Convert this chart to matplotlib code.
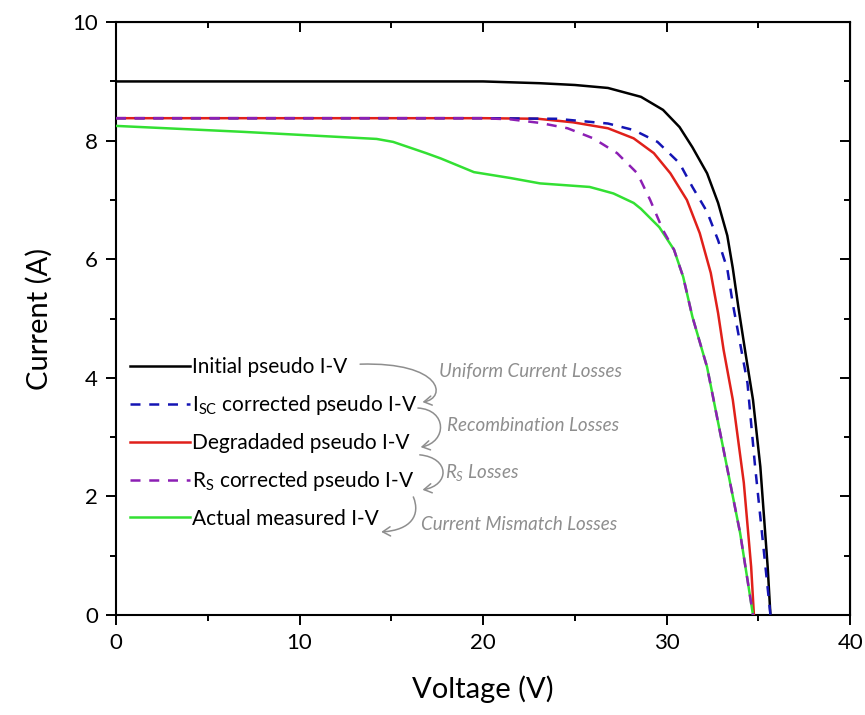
import matplotlib
matplotlib.use("Agg")
import matplotlib.pyplot as plt
from matplotlib.path import Path
from matplotlib.patches import FancyArrowPatch
from matplotlib.ticker import MultipleLocator

plt.rcParams['font.family'] = ['Lato', 'DejaVu Sans']
plt.rcParams['mathtext.fontset'] = 'custom'
plt.rcParams['mathtext.rm'] = 'Lato'
plt.rcParams['mathtext.it'] = 'Lato:italic'

# I-V curves (V in volts, I in amps)
v_init = [0, 10, 20, 23.1, 25.0, 26.8, 28.6, 29.8, 30.7, 31.4, 32.2, 32.8, 33.3, 33.6, 33.9, 34.3, 34.7, 35.1, 35.5, 35.65]
i_init = [9.0, 9.0, 9.0, 8.97, 8.94, 8.89, 8.74, 8.52, 8.23, 7.89, 7.45, 6.95, 6.40, 5.85, 5.20, 4.40, 3.63, 2.50, 0.81, 0.0]

v_isc = [0, 10, 20, 24.0, 25.4, 26.8, 28.2, 29.5, 30.7, 31.4, 32.2, 32.8, 33.3, 33.6, 34.0, 34.4, 34.8, 35.3, 35.65]
i_isc = [8.38, 8.38, 8.38, 8.37, 8.33, 8.29, 8.18, 7.98, 7.62, 7.22, 6.80, 6.32, 5.84, 5.25, 4.58, 3.91, 2.55, 1.05, 0.0]

v_deg = [0, 10, 20, 23.0, 24.9, 26.8, 28.2, 29.3, 30.2, 31.1, 31.8, 32.4, 32.8, 33.1, 33.6, 34.2, 34.6, 34.75]
i_deg = [8.38, 8.38, 8.38, 8.37, 8.31, 8.21, 8.04, 7.79, 7.45, 7.00, 6.44, 5.77, 5.09, 4.47, 3.63, 2.23, 0.81, 0.0]

v_rs = [0, 10, 20, 21.5, 23.1, 24.6, 26.0, 27.3, 28.4, 29.1, 29.8, 30.4, 30.9, 31.4, 32.2, 33.1, 34.0, 34.7]
i_rs = [8.38, 8.38, 8.38, 8.36, 8.30, 8.21, 8.04, 7.79, 7.45, 7.00, 6.49, 6.16, 5.70, 5.03, 4.18, 2.78, 1.38, 0.0]

v_meas = [0, 6.9, 14.2, 15.1, 16.9, 17.7, 19.5, 21.5, 23.1, 25.8, 26.4, 27.1, 28.2, 28.6, 29.6, 30.4, 30.9, 31.4, 32.2, 33.1, 34.0, 34.7]
i_meas = [8.25, 8.15, 8.03, 7.98, 7.79, 7.70, 7.47, 7.37, 7.28, 7.22, 7.17, 7.11, 6.95, 6.85, 6.54, 6.16, 5.70, 5.03, 4.18, 2.78, 1.38, 0.0]

labels = ["Initial pseudo I-V", "I$_\\mathrm{SC}$ corrected pseudo I-V", "Degradaded pseudo I-V",
          "R$_\\mathrm{S}$ corrected pseudo I-V", "Actual measured I-V"]
loss_labels = ["Uniform Current Losses", "Recombination Losses", "$R_S$ Losses", "Current Mismatch Losses"]

fig = plt.figure(figsize=(8.65, 7.15), dpi=100)
ax = fig.add_axes([0.134, 0.140, 0.849, 0.829])

dash = (0, (4, 3.5))
l1, = ax.plot(v_init, i_init, color="black", lw=1.8, label=labels[0], zorder=2)
l3, = ax.plot(v_deg, i_deg, color="#e0201a", lw=1.8, label=labels[2], zorder=3)
l5, = ax.plot(v_meas, i_meas, color="#33e033", lw=1.8, label=labels[4], zorder=4)
l2, = ax.plot(v_isc, i_isc, color="#1414b4", lw=1.8, ls=dash, label=labels[1], zorder=5)
l4, = ax.plot(v_rs, i_rs, color="#8c1fb4", lw=1.8, ls=dash, label=labels[3], zorder=6)

ax.set_xlim(0, 40)
ax.set_ylim(0, 10)
ax.xaxis.set_major_locator(MultipleLocator(10))
ax.xaxis.set_minor_locator(MultipleLocator(5))
ax.yaxis.set_major_locator(MultipleLocator(2))
ax.yaxis.set_minor_locator(MultipleLocator(1))
ax.tick_params(which="both", direction="out", width=1.4, labelsize=16)
ax.tick_params(which="major", length=7, pad=6)
ax.tick_params(which="minor", length=4.5)
for s in ax.spines.values():
    s.set_linewidth(1.5)

# mirrored inward ticks on top and right
ax_t = ax.secondary_xaxis("top")
ax_t.xaxis.set_major_locator(MultipleLocator(10))
ax_t.xaxis.set_minor_locator(MultipleLocator(5))
ax_t.tick_params(which="both", direction="in", width=1.4, labeltop=False)
ax_t.tick_params(which="major", length=7)
ax_t.tick_params(which="minor", length=4.5)
ax_r = ax.secondary_yaxis("right")
ax_r.yaxis.set_major_locator(MultipleLocator(2))
ax_r.yaxis.set_minor_locator(MultipleLocator(1))
ax_r.tick_params(which="both", direction="in", width=1.4, labelright=False)
ax_r.tick_params(which="major", length=7)
ax_r.tick_params(which="minor", length=4.5)

ax.set_xlabel("Voltage (V)", fontsize=21, labelpad=16)
ax.set_ylabel("Current (A)", fontsize=21, labelpad=14)

ax.legend(handles=[l1, l2, l3, l4, l5], loc="center left", bbox_to_anchor=(0.019, 0.290),
          frameon=False, fontsize=15, handlelength=2.9, handletextpad=0.1,
          labelspacing=0.76, borderpad=0, borderaxespad=0)

# loss annotations
grey = "#8e8e8e"
text_pos = [(17.6, 4.10), (18.05, 3.20), (17.9, 2.41), (16.6, 1.53)]
for (tx, ty), t in zip(text_pos, loss_labels):
    ax.text(tx, ty, t, color=grey, fontsize=13.5, style="italic", va="center", ha="left")

arrows = [
    [(13.3, 4.23), (17.8, 4.27), (18.05, 3.66), (16.7, 3.59)],
    [(16.45, 3.49), (18.05, 3.46), (18.05, 2.92), (16.6, 2.83)],
    [(16.55, 2.70), (18.2, 2.65), (18.2, 2.19), (16.7, 2.11)],
    [(16.2, 1.99), (16.6, 1.69), (16.1, 1.43), (14.45, 1.40)],
]
codes = [Path.MOVETO, Path.CURVE4, Path.CURVE4, Path.CURVE4]
for pts in arrows:
    arr = FancyArrowPatch(path=Path(pts, codes), arrowstyle="->,head_length=0.5,head_width=0.3",
                          color=grey, lw=1.1, mutation_scale=11)
    ax.add_patch(arr)

plt.savefig("out.png", dpi=100)
